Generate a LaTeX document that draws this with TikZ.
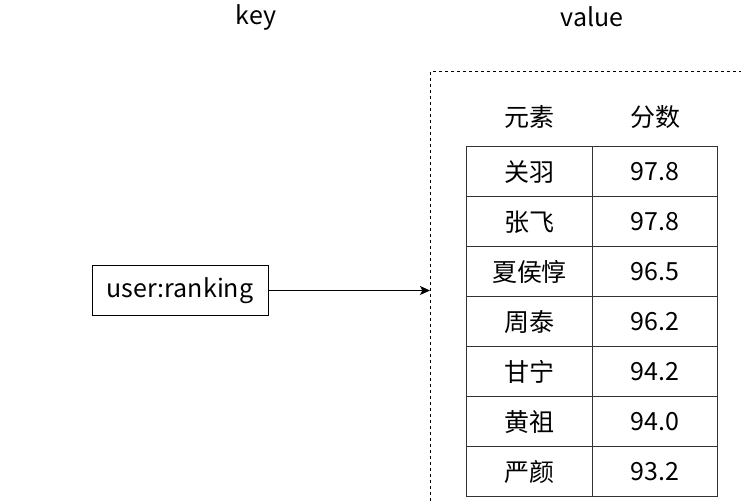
\documentclass[tikz,border=0pt]{standalone}
\usepackage{fontspec}
\setmainfont{Noto Sans CJK SC}
\usetikzlibrary{arrows.meta, positioning}
\definecolor{ink}{HTML}{000000}
\definecolor{grid}{HTML}{333333}
\newcommand{\txt}{\fontsize{12.5}{15}\selectfont}
\tikzset{
  label/.style={inner sep=0pt, text=ink, font=\txt},
  cell/.style={rectangle, draw=grid, line width=0.5pt, outer sep=0pt,
               minimum width=62.75pt, minimum height=25pt, inner sep=0pt,
               text=ink, font=\txt},
  keybox/.style={rectangle, draw=ink, line width=0.5pt, outer sep=0pt,
                 minimum width=88pt, minimum height=25pt, inner sep=0pt,
                 text=ink, font=\txt},
  frame/.style={rectangle, draw=ink, line width=0.5pt, outer sep=0pt,
                dash pattern=on 1.5pt off 1.5pt, anchor=north west,
                minimum width=190pt, minimum height=250pt, inner sep=0pt},
  arrow/.style={-{Stealth[length=5pt, width=4.5pt, inset=1.2pt]}, line width=0.5pt, draw=ink},
}

\begin{document}
\begin{tikzpicture}[x=0.5pt, y=-0.5pt]
  \useasboundingbox (0,0) rectangle (741,502);
  \clip (0,0) rectangle (741,502);

  \node[label] (keylabel) at (256,17) {key};
  \node[label] (vallabel) at (592,17) {value};

  \node[keybox] (key) at (180,290.5) {user:ranking};
  \node[frame] (valbox) at (430,72) {};

  \node[label] (hname) at (529.5,117) {元素};
  \node[label] (hscore) at (655,117) {分数};

  \node[cell] (n1) at (529.5,172) {关羽};
  \node[cell, below=0pt of n1] (n2) {张飞};
  \node[cell, below=0pt of n2] (n3) {夏侯惇};
  \node[cell, below=0pt of n3] (n4) {周泰};
  \node[cell, below=0pt of n4] (n5) {甘宁};
  \node[cell, below=0pt of n5] (n6) {黄祖};
  \node[cell, below=0pt of n6] (n7) {严颜};

  \node[cell, right=0pt of n1] (s1) {97.8};
  \node[cell, right=0pt of n2] (s2) {97.8};
  \node[cell, right=0pt of n3] (s3) {96.5};
  \node[cell, right=0pt of n4] (s4) {96.2};
  \node[cell, right=0pt of n5] (s5) {94.2};
  \node[cell, right=0pt of n6] (s6) {94.0};
  \node[cell, right=0pt of n7] (s7) {93.2};

  \draw[arrow] (key) -- (key -| valbox.west);
\end{tikzpicture}
\end{document}
